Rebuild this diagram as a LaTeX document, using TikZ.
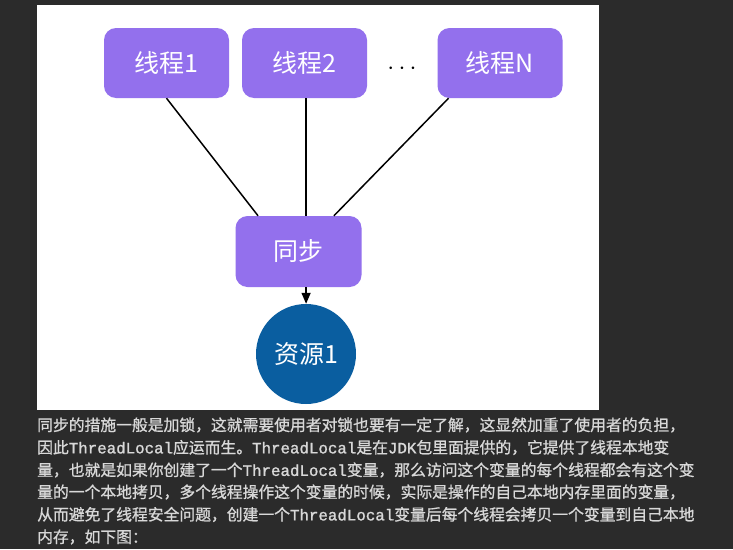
\documentclass[tikz,border=0pt]{standalone}
\usepackage{fontspec}
\setmainfont{Liberation Sans}
\newfontfamily\cjk{Noto Sans CJK SC}
\newfontfamily\cjkb{Noto Sans CJK SC}[FakeBold=0.9]
\newfontfamily\monob{Liberation Mono}[FakeBold=1.4]
\usetikzlibrary{arrows.meta,calc}
\definecolor{bg}{HTML}{2B2B2B}
\definecolor{tpurple}{HTML}{9370ED}
\definecolor{tblue}{HTML}{0A5EA0}
\definecolor{txt}{HTML}{D8D8D8}
\newcommand{\TL}{{\monob ThreadLocal}}
\tikzset{
  thr/.style={draw=none, fill=tpurple, rounded corners=12pt, minimum width=125pt, minimum height=70pt, text=white, font=\cjk\fontsize{25}{25}\selectfont, inner sep=0pt},
  res/.style={circle, fill=tblue, minimum size=100pt, text=white, font=\cjk\fontsize{25}{25}\selectfont, inner sep=0pt},
  conn/.style={black, line width=1.5pt},
  para/.style={anchor=west, inner sep=0pt, text=txt, font=\cjkb\fontsize{15.8}{15.8}\selectfont}
}
\begin{document}
\begin{tikzpicture}[x=1pt,y=-1pt]
\fill[bg] (0,0) rectangle (733,549);
\useasboundingbox (0,0) rectangle (733,549);
\fill[white] (37,5) rectangle (599,410);
\node[thr] (t1) at (166.5,63) {线程1};
\node[thr] (t2) at (304.5,63) {线程2};
\node[thr] (tn) at (500,63) {线程N};
\node[inner sep=0pt, font=\fontsize{25}{25}\selectfont] (dots) at (402,69) {$\cdots$};
\node[thr, minimum width=126pt, minimum height=71pt] (sync) at (298.5,251.5) {同步};
\node[res] (r1) at (306,354) {资源1};
\coordinate (s1) at ($(sync.north west)!0.18!(sync.north east)$);
\coordinate (s2) at ($(sync.north west)!0.56!(sync.north east)$);
\coordinate (s3) at ($(sync.north west)!0.78!(sync.north east)$);
\coordinate (s4) at ($(sync.south west)!0.56!(sync.south east)$);
\draw[conn] (t1.south) -- (s1);
\draw[conn] (t2.south -| s2) -- (s2);
\draw[conn] ($(tn.south west)!0.09!(tn.south east)$) -- (s3);
\draw[conn, -{Triangle[length=11pt,width=9pt]}] (s4) -- (s4 |- r1.north);
\node[para] (l1) at (37,425) {同步的措施一般是加锁，这就需要使用者对锁也要有一定了解，这显然加重了使用者的负担，};
\node[para] (l2) at (37,447.5) {因此\TL 应运而生。\TL 是在{\monob JDK}包里面提供的，它提供了线程本地变};
\node[para] (l3) at (37,470) {量，也就是如果你创建了一个\TL 变量，那么访问这个变量的每个线程都会有这个变};
\node[para] (l4) at (37,492) {量的一个本地拷贝，多个线程操作这个变量的时候，实际是操作的自己本地内存里面的变量，};
\node[para] (l5) at (37,514.5) {从而避免了线程安全问题，创建一个\TL 变量后每个线程会拷贝一个变量到自己本地};
\node[para] (l6) at (37,537) {内存，如下图：};
\end{tikzpicture}
\end{document}
